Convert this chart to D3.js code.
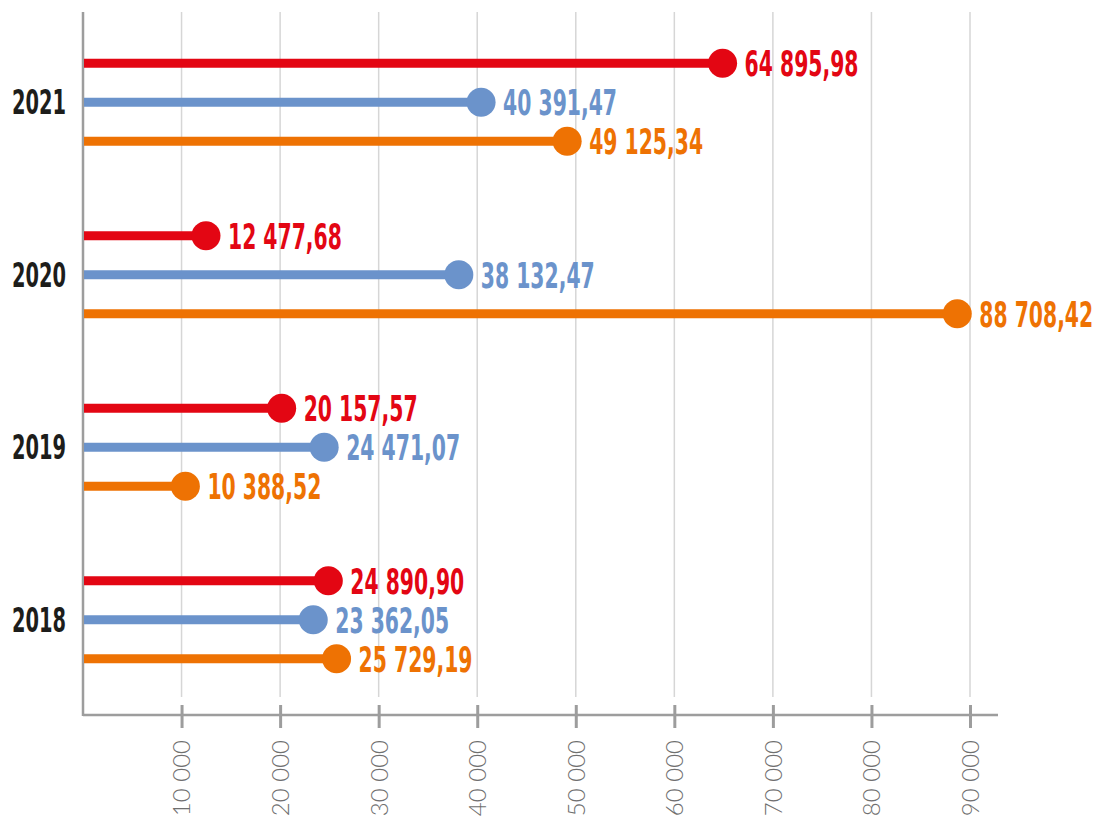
<!DOCTYPE html>
<html>
<head>
<meta charset="utf-8">
<script src="https://cdn.jsdelivr.net/npm/d3@7"></script>
<style>
  body { margin: 0; background: #fff; }
  .year { font-family: "Liberation Sans Narrow", "DejaVu Sans Condensed", sans-serif; font-weight: bold; font-size: 34px; fill: #1d1d1b; }
  .val { font-family: "Liberation Sans Narrow", "DejaVu Sans Condensed", sans-serif; font-weight: bold; font-size: 36px; }
  .tick-label { font-family: Lato, sans-serif; font-weight: 300; font-size: 24px; fill: #6f6f6f; }
</style>
</head>
<body>
<svg id="chart"></svg>
<script>
// data
var years = ["2021", "2020", "2019", "2018"];
var seriesNames = ["red", "blue", "orange"];
var seriesColors = ["#e30613", "#6b93cb", "#ee7203"];
var redValues = [64895.98, 12477.68, 20157.57, 24890.90];
var blueValues = [40391.47, 38132.47, 24471.07, 23362.05];
var orangeValues = [49125.34, 88708.42, 10388.52, 25729.19];
var tickValues = [10000, 20000, 30000, 40000, 50000, 60000, 70000, 80000, 90000];

var width = 1093, height = 821;
var svg = d3.select("#chart").attr("width", width).attr("height", height);

var ru = d3.formatLocale({ decimal: ",", thousands: "\u00a0", grouping: [3], currency: ["", ""] });
var fmtVal = ru.format(",.2f");
var fmtTick = ru.format(",d");

var x = d3.scaleLinear().domain([0, 90000]).range([83, 970]);
var y = d3.scaleBand().domain(years).range([16, 706]);
var inner = d3.scalePoint().domain(seriesNames).range([-39, 39]);
var color = d3.scaleOrdinal().domain(seriesNames).range(seriesColors);

var axisY = 715;

// the installed condensed font is wider than the original one, so squeeze text horizontally
function squeeze(cls, sample, target) {
  var t = svg.append("text").attr("class", cls).text(sample);
  var w = t.node().getComputedTextLength();
  t.remove();
  return target / w;
}
var yearScale = squeeze("year", "2021", 54);
var valScale = squeeze("val", fmtVal(64895.98), 114);

// gridlines
svg.append("g")
  .selectAll("line")
  .data(tickValues)
  .enter()
  .append("line")
  .attr("x1", d => x(d)).attr("x2", d => x(d))
  .attr("y1", 12).attr("y2", 697)
  .attr("stroke", "#d6d6d6")
  .attr("stroke-width", 1.5);

// bottom axis
var xAxis = svg.append("g")
  .attr("transform", "translate(0," + axisY + ")")
  .call(d3.axisBottom(x).tickValues(tickValues).tickSize(0).tickFormat(fmtTick));
xAxis.select(".domain").remove();
xAxis.append("line")
  .attr("x1", 83).attr("x2", 998)
  .attr("stroke", "#9d9d9d").attr("stroke-width", 2.5);
xAxis.selectAll(".tick").append("line")
  .attr("y1", -10).attr("y2", 13)
  .attr("stroke", "#9d9d9d").attr("stroke-width", 3);
xAxis.selectAll(".tick text")
  .attr("class", "tick-label")
  .attr("transform", "rotate(-90)")
  .attr("x", -25)
  .attr("y", 0)
  .attr("dy", "0.35em")
  .attr("text-anchor", "end");

// left axis
svg.append("line")
  .attr("x1", 83).attr("x2", 83)
  .attr("y1", 12).attr("y2", axisY + 1)
  .attr("stroke", "#9d9d9d").attr("stroke-width", 2.5);

// year labels
svg.append("g")
  .selectAll("g")
  .data(years)
  .enter()
  .append("g")
  .attr("transform", d => "translate(66," + (y(d) + y.bandwidth() / 2) + ")")
  .append("text")
  .attr("class", "year")
  .attr("text-anchor", "end")
  .attr("dy", "0.36em")
  .attr("transform", "scale(" + yearScale + ",1)")
  .text(d => d);

// rows
var rows = [];
var seriesValues = [redValues, blueValues, orangeValues];
years.forEach(function (yr, i) {
  seriesNames.forEach(function (s, j) {
    rows.push({ year: yr, series: s, value: seriesValues[j][i] });
  });
});

var rowY = d => y(d.year) + y.bandwidth() / 2 + inner(d.series);

var g = svg.append("g");
g.selectAll("line.stem")
  .data(rows)
  .enter()
  .append("line")
  .attr("class", "stem")
  .attr("x1", x(0) + 1)
  .attr("x2", d => x(d.value))
  .attr("y1", rowY).attr("y2", rowY)
  .attr("stroke", d => color(d.series))
  .attr("stroke-width", 9);

g.selectAll("circle")
  .data(rows)
  .enter()
  .append("circle")
  .attr("cx", d => x(d.value))
  .attr("cy", rowY)
  .attr("r", 14.5)
  .attr("fill", d => color(d.series));

g.selectAll("g.lab")
  .data(rows)
  .enter()
  .append("g")
  .attr("class", "lab")
  .attr("transform", d => "translate(" + (x(d.value) + 22) + "," + rowY(d) + ")")
  .append("text")
  .attr("class", "val")
  .attr("dy", "0.36em")
  .attr("transform", "scale(" + valScale + ",1)")
  .attr("fill", d => color(d.series))
  .text(d => fmtVal(d.value));
</script>
</body>
</html>
